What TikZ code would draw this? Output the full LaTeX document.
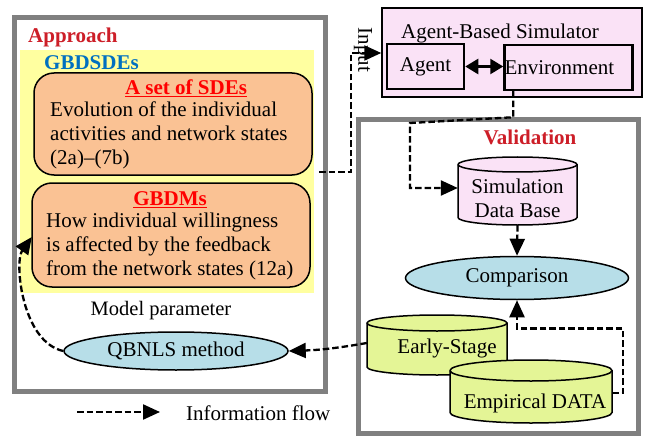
\documentclass[tikz,border=0pt]{standalone}
\usepackage{fontspec}
\setmainfont{Liberation Serif}
\usetikzlibrary{arrows.meta,shapes.geometric}
\definecolor{bordergray}{RGB}{128,128,128}
\definecolor{paleyellow}{RGB}{255,255,160}
\definecolor{peach}{RGB}{250,194,148}
\definecolor{pinkfill}{RGB}{250,226,246}
\definecolor{lightblue}{RGB}{183,222,232}
\definecolor{limefill}{RGB}{228,245,150}
\definecolor{titlered}{RGB}{205,30,40}
\definecolor{subblue}{RGB}{0,112,192}
\newcommand{\drawcyl}[6]{%
  \filldraw[fill=#6, draw=black, line width=1.5pt] (#1,#3-#5) -- (#1,#4+#5)
    arc[start angle=180,end angle=360,x radius={(#2-#1)/2},y radius=#5]
    -- (#2,#3-#5)
    arc[start angle=0,end angle=180,x radius={(#2-#1)/2},y radius=#5] -- cycle;
  \draw[line width=1.5pt] (#1,#3-#5)
    arc[start angle=180,end angle=360,x radius={(#2-#1)/2},y radius=#5];}
\begin{document}
\begin{tikzpicture}[x=1pt,y=1pt,
  txt/.style={font=\fontsize{21}{24}\selectfont, inner sep=0pt},
  smalltxt/.style={font=\fontsize{20.5}{24}\selectfont, inner sep=0pt},
  flow/.style={line width=2.3pt, dash pattern=on 6.5pt off 3pt, -{Triangle[length=17pt,width=15pt]}},
  panel/.style={draw=bordergray, line width=5pt},
  roundbox/.style={draw=black, line width=1.5pt, fill=peach, rounded corners=20pt},
  innerbox/.style={draw=black, line width=2.5pt, fill=pinkfill, minimum height=45pt, inner sep=0pt},
  oval/.style={ellipse, draw=black, line width=1.5pt, fill=lightblue, inner sep=0pt},
  cylname/.style={inner sep=0pt, draw=none},
  heading/.style={font=\fontsize{21}{24}\selectfont\bfseries, inner sep=0pt}
]
\useasboundingbox (0,0) rectangle (647,437);
\fill[white] (0,0) rectangle (647,437);

% ---------------- Approach panel ----------------
\draw[panel] (14.5,419) rectangle (325.5,46);
\fill[paleyellow] (20,387) rectangle (314,144);
\node[heading, text=titlered, anchor=west] (approach) at (28,400) {Approach};
\node[heading, text=subblue, anchor=west] (gbdsdes) at (44,374) {GBDSDEs};

\draw[roundbox] (34,364) rectangle (312,262);
\node[cylname, minimum width=278pt, minimum height=102pt] (sde) at (173,313) {};
\node[heading, text=red] (sdetitle) at (186,349) {\underline{A set of SDEs}};
\node[txt, anchor=west, align=left] (sdetext) at (50,302)
  {Evolution of the individual\\activities and network states\\(2a)--(7b)};

\draw[roundbox] (32,254) rectangle (310,150);
\node[cylname, minimum width=278pt, minimum height=104pt] (gbdm) at (171,202) {};
\node[heading, text=red] (gbdmtitle) at (170,237) {\underline{GBDMs}};
\node[txt, anchor=west, align=left] (gbdmtext) at (46,191)
  {How individual willingness\\is affected by the feedback\\from the network states (12a)};

\node[smalltxt] (modelparam) at (161,126) {Model parameter};
\node[oval, minimum width=224pt, minimum height=38pt, txt] (qb) at (176,86) {QBNLS method};

% ---------------- Agent-Based Simulator ----------------
\node[draw=black, line width=1.5pt, fill=pinkfill, minimum width=260pt, minimum height=89pt, inner sep=0pt] (sim) at (512,384.5) {};
\node[txt] (simtitle) at (500,404) {Agent-Based Simulator};
\node[innerbox, minimum width=77pt, txt] (agent) at (425.5,370.5) {Agent};
\node[innerbox, text width=128pt, inner xsep=2.5pt, align=left, txt, minimum height=45pt] (env) at (568.5,369.5) {Environment};
\draw[line width=2.5pt, {Triangle[length=13pt,width=15pt]}-{Triangle[length=13pt,width=15pt]}] (agent.east) -- (agent.east -| env.west);

% ---------------- Validation panel ----------------
\draw[panel] (358.5,317.5) rectangle (638.5,4);
\node[heading, text=titlered] (validation) at (530,300) {Validation};

\drawcyl{458}{577}{280}{212}{7.5}{pinkfill}
\node[cylname, minimum width=119pt, minimum height=68pt] (simdb) at (517.5,246) {};
\node[txt, align=center] (simdbtext) at (517.5,238.5) {Simulation\\Data Base};

\node[oval, minimum width=223pt, minimum height=43pt, txt] (cmp) at (517,159) {Comparison};

\drawcyl{367}{507}{122}{62}{8}{limefill}
\node[cylname, minimum width=140pt, minimum height=60pt] (early) at (437,92) {};
\node[txt] (earlytext) at (447,89) {Early-Stage};

\drawcyl{450}{612}{77}{14}{10.5}{limefill}
\node[cylname, minimum width=162pt, minimum height=63pt] (emp) at (531,45.5) {};
\node[txt] (emptext) at (535,34) {Empirical DATA};

% ---------------- Connectors ----------------
\coordinate (inpt) at (319,265);
\draw[flow] (inpt) -- (351,265) -- (351,384) -- (sim.west |- 0,384);
\node[txt, rotate=-90] (inputlabel) at (363,387) {Input};

\draw[flow] ([xshift=10pt]env.south west) -- ++(0,-26) -- (410,314) -- (410,249) -- ([yshift=3pt]simdb.west);
\draw[flow] (simdb.south) -- (cmp.north);
\draw[flow] ([yshift=-1.5pt]emp.east) -- (623,44) -- (623,108.5) -- (517,108.5) -- (cmp.south);
\draw[flow] ([yshift=2pt]early.west) to[bend left=4] (qb.east);
\draw[flow] (qb.west) .. controls (22,95) and (14,175) .. ([yshift=-2pt]gbdm.west);

% ---------------- Legend ----------------
\coordinate (lg1) at (77,25);
\coordinate (lg2) at (160,25);
\draw[flow] (lg1) -- (lg2);
\node[txt, anchor=west] (legendtext) at (186,24) {Information flow};
\end{tikzpicture}
\end{document}
